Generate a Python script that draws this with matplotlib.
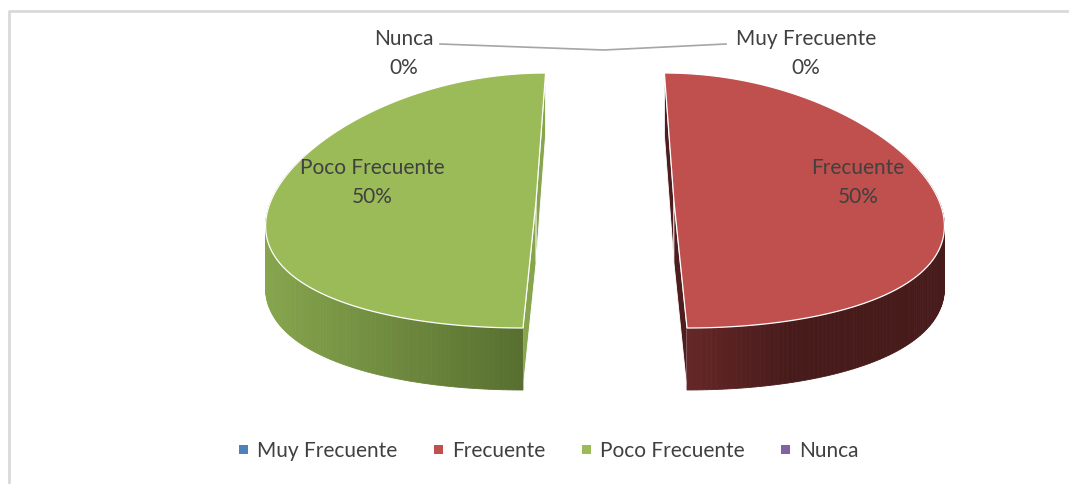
import numpy as np
import matplotlib
matplotlib.use("Agg")
import matplotlib.pyplot as plt
from matplotlib.patches import Polygon, Patch
from matplotlib.colors import to_rgb

# ---- data ----
categories = ["Muy Frecuente", "Frecuente", "Poco Frecuente", "Nunca"]
values = [0, 50, 50, 0]
colors = ["#4F81BD", "#C0504D", "#9BBB59", "#8064A2"]
side_light = ["#3a5f8a", "#6a2a29", "#86a54d", "#5e4a78"]
side_dark = ["#2a4466", "#481b1b", "#536a2d", "#443558"]
cut_colors = ["#2a4466", "#4e1d1d", "#86a54d", "#443558"]

plt.rcParams['font.family'] = ['Lato', 'DejaVu Sans']

W, H = 1069, 484
fig = plt.figure(figsize=(W / 100, H / 100), dpi=100)
ax = fig.add_axes([0, 0, 1, 1])
ax.set_xlim(0, W)
ax.set_ylim(H, 0)
ax.axis('off')

# chart frame
ax.plot([8.5, 8.5, W + 5], [H + 5, 10.5, 10.5], color="#d9d9d9", lw=2, solid_capstyle='butt')

# ---- 3D pie geometry ----
cx, cy = 605.0, 200.5     # screen centre of pie top
a, b = 265.0, 127.5       # semi axes of top ellipse
h = 62.0                  # thickness
k = 0.16                  # perspective strength
explode = 0.26


def proj(X, Y, dz=0.0):
    s = 1.0 / (1.0 + k * Y)
    return cx + X * a * s, cy - Y * b + dz


total = float(sum(values))
start = 90.0
angle = start
slices = []
for i, v in enumerate(values):
    sweep = 360.0 * v / total
    t1, t2 = angle, angle - sweep
    angle = t2
    slices.append((i, t1, t2))

for i, t1, t2 in slices:
    if values[i] <= 0:
        continue
    mid = np.radians((t1 + t2) / 2)
    ox, oy = explode * np.cos(mid), explode * np.sin(mid)
    th = np.radians(np.linspace(t1, t2, 200))
    X = ox + np.cos(th)
    Y = oy + np.sin(th)
    xs_t, ys_t = proj(X, Y)
    xs_b, ys_b = proj(X, Y, h)

    # cut faces (radial planes)
    for tt in (t1, t2):
        r = np.radians(tt)
        px = [ox, ox + np.cos(r)]
        py = [oy, oy + np.sin(r)]
        p0t = proj(px[0], py[0]); p1t = proj(px[1], py[1])
        p0b = proj(px[0], py[0], h); p1b = proj(px[1], py[1], h)
        ax.add_patch(Polygon([p0t, p1t, p1b, p0b], closed=True,
                             facecolor=cut_colors[i], edgecolor='white', lw=0.6, zorder=2))

    # outer side with horizontal gradient
    c_l = np.array(to_rgb(side_light[i]))
    c_d = np.array(to_rgb(side_dark[i]))
    xmin, xmax = xs_t.min(), xs_t.max()
    for j in range(len(th) - 1):
        if np.sin(th[j]) > 0.35 and np.sin(th[j + 1]) > 0.35:
            continue
        xm = 0.5 * (xs_t[j] + xs_t[j + 1])
        if i == 1:
            f = np.clip((xm - xmin) / (0.45 * (xmax - xmin)), 0, 1)
        else:
            f = (xm - xmin) / (xmax - xmin)
        col = c_l + (c_d - c_l) * f
        quad = [(xs_t[j], ys_t[j]), (xs_t[j + 1], ys_t[j + 1]),
                (xs_b[j + 1], ys_b[j + 1]), (xs_b[j], ys_b[j])]
        ax.add_patch(Polygon(quad, closed=True, facecolor=col, edgecolor=col,
                             lw=0.6, zorder=3))

    # top face
    cxp, cyp = proj(ox, oy)
    top = [(cxp, cyp)] + list(zip(xs_t, ys_t))
    ax.add_patch(Polygon(top, closed=True, facecolor=colors[i],
                         edgecolor='white', lw=0.9, zorder=4))

# ---- data labels ----
lab_col = "#404040"
fs = 15
label_pos = {0: (806, 39, 68), 1: (858, 168, 197), 2: (372, 168, 197), 3: (404, 39, 68)}
for i, cat in enumerate(categories):
    x, y1, y2 = label_pos[i]
    pct = f"{values[i] / total * 100:.0f}%"
    ax.text(x, y1, cat, ha='center', va='center', fontsize=fs, color=lab_col, zorder=6)
    ax.text(x, y2, pct, ha='center', va='center', fontsize=fs, color=lab_col, zorder=6)

# leader lines for 0% labels
ax.plot([440, 604, 726], [44, 50, 44], color="#a6a6a6", lw=1.2, zorder=5)

# ---- legend ----
handles = [Patch(facecolor=c, edgecolor='none') for c in colors]
leg = fig.legend(handles, categories, loc='center', ncol=4,
                 bbox_to_anchor=(549 / W, 1 - 451 / H), frameon=False,
                 fontsize=fs, handlelength=0.42, handleheight=0.3,
                 handletextpad=0.45, columnspacing=1.75)
for t in leg.get_texts():
    t.set_color(lab_col)

fig.savefig("out.png", dpi=100)
